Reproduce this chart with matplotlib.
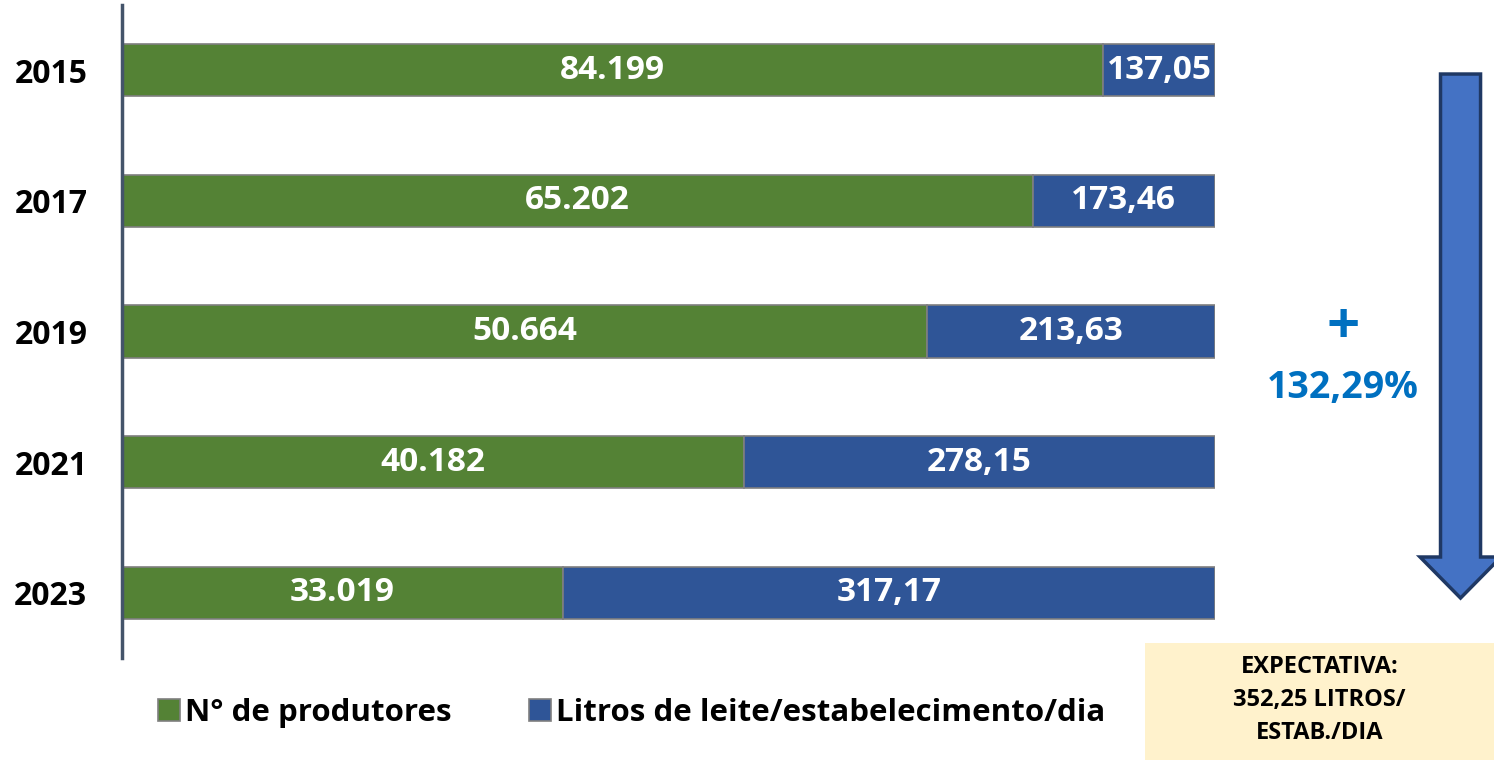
import matplotlib.pyplot as plt
from matplotlib.patches import FancyArrow, Rectangle

# data
anos = ['2015', '2017', '2019', '2021', '2023']
produtores = ['84.199', '65.202', '50.664', '40.182', '33.019']
litros = ['137,05', '173,46', '213,63', '278,15', '317,17']
# share of each bar taken by the green segment (%), as drawn
parte_produtores = [89.75, 83.3, 73.65, 56.9, 40.3]
parte_litros = [100 - p for p in parte_produtores]

verde = '#548235'
azul = '#2F5597'
fonte = 'Open Sans'

plt.rcParams['font.family'] = [fonte, 'DejaVu Sans']

fig = plt.figure(figsize=(14.94, 7.6), dpi=100)
ax = fig.add_axes([0.0817, 0.134, 0.7316, 0.8594])

y = list(range(len(anos)))
b1 = ax.barh(y, parte_produtores, height=0.4, color=verde,
             edgecolor='#7F7F7F', linewidth=1.2, label='N° de produtores')
b2 = ax.barh(y, parte_litros, left=parte_produtores, height=0.4, color=azul,
             edgecolor='#7F7F7F', linewidth=1.2,
             label='Litros de leite/estabelecimento/dia')

# value labels, centred in each segment
for i in y:
    ax.text(parte_produtores[i] / 2, i, produtores[i], ha='center', va='center',
            color='white', fontsize=24, fontweight='bold')
    ax.text(parte_produtores[i] + parte_litros[i] / 2, i, litros[i],
            ha='center', va='center', color='white', fontsize=24,
            fontweight='bold')

ax.set_xlim(0, 100)
ax.set_ylim(len(anos) - 0.5, -0.5)
ax.set_yticks(y)
ax.set_yticklabels(anos, fontsize=23, fontweight='bold')
ax.tick_params(axis='y', length=0, pad=25)
ax.set_xticks([])
for s in ['top', 'right', 'bottom']:
    ax.spines[s].set_visible(False)
ax.spines['left'].set_color('#44546A')
ax.spines['left'].set_linewidth(2.5)

# legend under the bars
fig.legend(handles=[b1, b2], loc='center', bbox_to_anchor=(0.4227, 0.062),
           ncol=2, frameon=False, prop={'family': fonte, 'size': 22.5, 'weight': 'bold'},
           handlelength=0.7, handleheight=0.7, handletextpad=0.15,
           columnspacing=2.5)

# downward arrow on the right
seta = FancyArrow(0.9776, 0.9026, 0, -0.6895, width=0.0268, head_width=0.0542,
                  head_length=0.054, length_includes_head=True,
                  transform=fig.transFigure, facecolor='#4472C4',
                  edgecolor='#1F3864', linewidth=2.5)
fig.patches.append(seta)

fig.text(0.899, 0.568, '+', ha='center', va='center', color='#0070C0',
         fontsize=42, fontweight='bold')
fig.text(0.899, 0.489, '132,29%', ha='center', va='center', color='#0070C0',
         fontsize=27, fontweight='bold')

# expectation box
caixa = Rectangle((0.7664, 0), 0.2336, 0.154, transform=fig.transFigure,
                  facecolor='#FFF2CC', edgecolor='none')
fig.patches.append(caixa)
fig.text(0.8832, 0.079, 'EXPECTATIVA:\n352,25 LITROS/\nESTAB./DIA', ha='center',
         va='center', fontsize=17, fontweight='bold', linespacing=1.5)

fig.savefig('out.png', dpi=100)
